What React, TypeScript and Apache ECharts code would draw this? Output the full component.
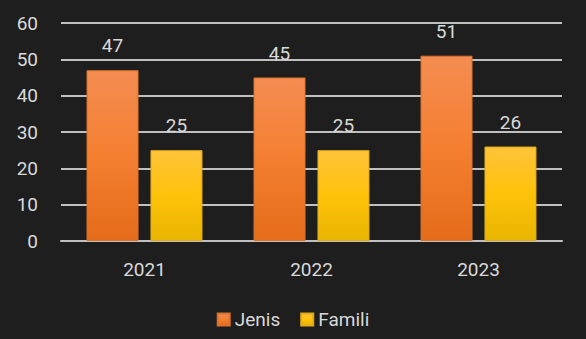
import React, { useEffect, useRef } from "react";
import * as echarts from "echarts";

const categories = ["2021", "2022", "2023"];
const jenis = [47, 45, 51];
const famili = [25, 25, 26];
const seriesNames = ["Jenis", "Famili"];

export default function App() {
  const ref = useRef<HTMLDivElement>(null);
  useEffect(() => {
    const chart = echarts.init(ref.current!, null, { renderer: "svg" });
    const textColor = "#d9d9d9";
    const font = "Roboto";
    const fs = 19;
    chart.setOption({
      animation: false,
      backgroundColor: "#1e1e1e",
      textStyle: { fontFamily: font },
      grid: { left: 61, right: 24, top: 23, bottom: 98 },
      legend: {
        data: seriesNames,
        bottom: 5,
        left: "center",
        itemWidth: 12,
        itemHeight: 12,
        itemGap: 20,
        icon: "rect",
        textStyle: { color: textColor, fontSize: fs, fontFamily: font },
      },
      xAxis: {
        type: "category",
        data: categories,
        axisLine: { show: true, lineStyle: { color: "#c0c0c0", width: 2 } },
        axisTick: { show: false },
        axisLabel: { color: textColor, fontSize: fs, margin: 19, fontFamily: font },
      },
      yAxis: {
        type: "value",
        min: 0,
        max: 60,
        interval: 10,
        axisLine: { show: false },
        axisTick: { show: false },
        axisLabel: { color: textColor, fontSize: fs, margin: 23, fontFamily: font },
        splitLine: { lineStyle: { color: "#c0c0c0", width: 2 } },
      },
      series: [
        {
          name: seriesNames[0],
          type: "bar",
          data: jenis,
          barWidth: 52,
          barGap: "23%",
          itemStyle: {
            color: new echarts.graphic.LinearGradient(0, 0, 0, 1, [
              { offset: 0, color: "#f48d52" },
              { offset: 0.5, color: "#f47f30" },
              { offset: 1, color: "#e46c1b" },
            ]),
            borderColor: "#d9732e",
            borderWidth: 1,
          },
          label: { show: true, position: "top", distance: 15, color: textColor, fontSize: fs, fontFamily: font },
        },
        {
          name: seriesNames[1],
          type: "bar",
          data: famili,
          barWidth: 52,
          itemStyle: {
            color: new echarts.graphic.LinearGradient(0, 0, 0, 1, [
              { offset: 0, color: "#ffc33a" },
              { offset: 0.5, color: "#ffc20a" },
              { offset: 1, color: "#e8b500" },
            ]),
            borderColor: "#e0ac1a",
            borderWidth: 1,
          },
          label: { show: true, position: "top", distance: 15, color: textColor, fontSize: fs, fontFamily: font },
        },
      ],
    });
    return () => chart.dispose();
  }, []);
  return <div ref={ref} style={{ width: 586, height: 339, position: "absolute", left: 0, top: 0 }} />;
}
